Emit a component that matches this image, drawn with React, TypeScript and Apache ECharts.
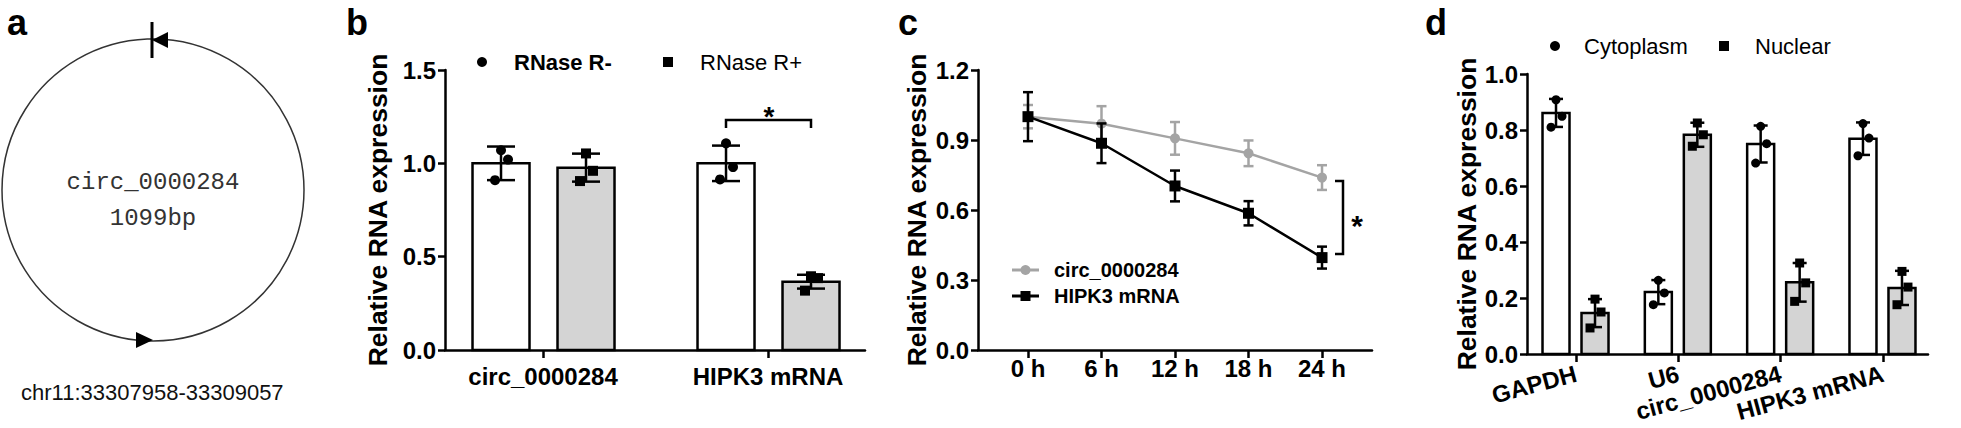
import React, { useEffect, useRef } from 'react';
import * as echarts from 'echarts';

// ---------- Panel b data ----------
const bCategories = ['circ_0000284', 'HIPK3 mRNA'];
const bMinusMean = [1.0, 1.0];
const bMinusSd = [0.09, 0.095];
const bMinusPoints = [[1.07, 1.02, 0.91], [1.107, 0.98, 0.914]];
const bPlusMean = [0.977, 0.366];
const bPlusSd = [0.075, 0.037];
const bPlusPoints = [[1.053, 0.96, 0.905], [0.395, 0.385, 0.318]];

// ---------- Panel c data ----------
const cHours = [0, 6, 12, 18, 24];
const cCircMean = [1.0, 0.97, 0.907, 0.843, 0.739];
const cCircSd = [0.05, 0.075, 0.07, 0.055, 0.053];
const cHipkMean = [1.0, 0.886, 0.703, 0.586, 0.396];
const cHipkSd = [0.105, 0.085, 0.066, 0.052, 0.047];

// ---------- Panel d data ----------
const dCategories = ['GAPDH', 'U6', 'circ_0000284', 'HIPK3 mRNA'];
const dCytoMean = [0.861, 0.221, 0.75, 0.769];
const dCytoSd = [0.05, 0.043, 0.066, 0.058];
const dCytoPoints = [[0.908, 0.849, 0.81], [0.263, 0.218, 0.176], [0.813, 0.751, 0.682], [0.823, 0.771, 0.708]];
const dNucMean = [0.146, 0.783, 0.256, 0.236];
const dNucSd = [0.05, 0.043, 0.069, 0.061];
const dNucPoints = [[0.196, 0.15, 0.093], [0.825, 0.783, 0.742], [0.325, 0.254, 0.188], [0.295, 0.239, 0.176]];

const FONT = '"Liberation Sans", Arial, Helvetica, sans-serif';
const MONO = '"Liberation Mono", "DejaVu Sans Mono", monospace';
const GRAY_FILL = '#d4d4d4';
const LINE_GRAY = '#a4a4a4';
const LW = 2.5;

function barSeries(
  name: string, axis: number, means: number[], sds: number[], points: number[][],
  offset: number, width: number, fill: string, symbol: 'circle' | 'rect',
  capHalf: number, jitter: number[], symSize: number
) {
  return {
    type: 'custom', name, xAxisIndex: axis, yAxisIndex: axis, silent: true,
    data: means.map((m, i) => [i, m, sds[i], ...points[i]]),
    encode: { x: 0, y: 1 },
    renderItem: (params: any, api: any) => {
      const i = api.value(0), m = api.value(1), s = api.value(2);
      const p0 = api.coord([i, 0]);
      const pt = api.coord([i, m]);
      const cx = p0[0] + offset;
      const hi = api.coord([i, m + s])[1];
      const lo = api.coord([i, m - s])[1];
      const st = { stroke: '#000', lineWidth: LW };
      const children: any[] = [
        { type: 'rect', shape: { x: cx - width / 2, y: pt[1], width, height: p0[1] - pt[1] }, style: { fill, stroke: '#000', lineWidth: LW } },
        { type: 'line', shape: { x1: cx, y1: hi, x2: cx, y2: lo }, style: st },
        { type: 'line', shape: { x1: cx - capHalf, y1: hi, x2: cx + capHalf, y2: hi }, style: st },
        { type: 'line', shape: { x1: cx - capHalf, y1: lo, x2: cx + capHalf, y2: lo }, style: st },
      ];
      for (let k = 0; k < 3; k++) {
        const y = api.coord([i, api.value(3 + k)])[1];
        const x = cx + jitter[k];
        if (symbol === 'circle') {
          children.push({ type: 'circle', shape: { cx: x, cy: y, r: symSize / 2 }, style: { fill: '#000' } });
        } else {
          children.push({ type: 'rect', shape: { x: x - symSize / 2, y: y - symSize / 2, width: symSize, height: symSize }, style: { fill: '#000' } });
        }
      }
      return { type: 'group', children };
    },
  };
}

function errSeries(name: string, axis: number, xs: number[], means: number[], sds: number[], color: string, z: number, capHalf: number) {
  return {
    type: 'custom', name, xAxisIndex: axis, yAxisIndex: axis, z, silent: true,
    data: xs.map((x, i) => [x, means[i], sds[i]]),
    encode: { x: 0, y: 1 },
    renderItem: (params: any, api: any) => {
      const x = api.value(0), m = api.value(1), s = api.value(2);
      const a = api.coord([x, m + s]);
      const b = api.coord([x, m - s]);
      const st = { stroke: color, lineWidth: LW };
      return {
        type: 'group', children: [
          { type: 'line', shape: { x1: a[0], y1: a[1], x2: b[0], y2: b[1] }, style: st },
          { type: 'line', shape: { x1: a[0] - capHalf, y1: a[1], x2: a[0] + capHalf, y2: a[1] }, style: st },
          { type: 'line', shape: { x1: b[0] - capHalf, y1: b[1], x2: b[0] + capHalf, y2: b[1] }, style: st },
        ],
      };
    },
  };
}

const axisLine = { show: true, onZero: false, lineStyle: { color: '#000', width: LW } };

function yAxis(grid: number, max: number, interval: number, nameGap: number) {
  return {
    gridIndex: grid, type: 'value', min: 0, max, interval,
    axisLine, splitLine: { show: false },
    axisTick: { show: true, length: 7, lineStyle: { color: '#000', width: LW } },
    axisLabel: { formatter: (v: number) => v.toFixed(1), color: '#000', fontFamily: FONT, fontWeight: 'bold', fontSize: 24, margin: 9 },
    name: 'Relative RNA expression', nameLocation: 'middle', nameGap,
    nameTextStyle: { color: '#000', fontFamily: FONT, fontWeight: 'bold', fontSize: 26.5 },
  };
}

function xAxis(grid: number, min: number, max: number, ticks: number[], fmt: (v: number) => string, margin: number, rotate = 0) {
  return {
    gridIndex: grid, type: 'value', min, max,
    axisLine, splitLine: { show: false },
    axisTick: { show: true, length: 8, customValues: ticks, lineStyle: { color: '#000', width: LW } },
    axisLabel: { customValues: ticks, formatter: fmt, color: '#000', fontFamily: FONT, fontWeight: 'bold', fontSize: 24, margin, rotate },
  };
}

const txt = (x: number, y: number, text: string, size: number, weight = 'bold', align = 'left', va = 'middle', family = FONT, fill = '#000') => ({
  type: 'text', x, y,
  style: {
    text, fontSize: size, fontWeight: weight, fontFamily: family, fill,
    align, verticalAlign: va, textAlign: align, textVerticalAlign: va,
  },
});

const graphic: any[] = [
  // panel letters
  txt(7, 22, 'a', 36, 'bold'),
  txt(346, 22, 'b', 36, 'bold'),
  txt(898, 22, 'c', 36, 'bold'),
  txt(1425, 22, 'd', 36, 'bold'),
  // panel a
  { type: 'circle', shape: { cx: 153, cy: 190, r: 151 }, style: { fill: 'none', stroke: '#333', lineWidth: 1.5 } },
  { type: 'line', shape: { x1: 152, y1: 22, x2: 152, y2: 58 }, style: { stroke: '#000', lineWidth: 3 } },
  { type: 'polygon', shape: { points: [[152, 40], [168, 32], [168, 48]] }, style: { fill: '#000' } },
  { type: 'polygon', shape: { points: [[136, 332], [153, 340], [136, 348]] }, style: { fill: '#000' } },
  txt(153, 182, 'circ_0000284', 24, 'normal', 'center', 'middle', MONO, '#333'),
  txt(153, 218, '1099bp', 24, 'normal', 'center', 'middle', MONO, '#333'),
  txt(21, 392, 'chr11:33307958-33309057', 22, 'normal', 'left', 'middle', FONT, '#111'),
  // panel b legend
  { type: 'circle', shape: { cx: 482, cy: 62, r: 5 }, style: { fill: '#000' } },
  txt(514, 62, 'RNase R-', 22, 'bold'),
  { type: 'rect', shape: { x: 663, y: 57, width: 10, height: 10 }, style: { fill: '#000' } },
  txt(700, 62, 'RNase R+', 22, 'normal'),
  // panel b significance
  { type: 'polyline', shape: { points: [[726, 128], [726, 120], [811, 120], [811, 128]] }, style: { stroke: '#000', lineWidth: LW, fill: 'none' } },
  txt(769, 116, '*', 28, 'bold', 'center', 'middle'),
  // panel c legend
  { type: 'line', shape: { x1: 1012, y1: 270, x2: 1039, y2: 270 }, style: { stroke: LINE_GRAY, lineWidth: 3 } },
  { type: 'circle', shape: { cx: 1025.5, cy: 270, r: 5 }, style: { fill: LINE_GRAY } },
  txt(1054, 270, 'circ_0000284', 20, 'bold'),
  { type: 'line', shape: { x1: 1012, y1: 296, x2: 1039, y2: 296 }, style: { stroke: '#000', lineWidth: 3 } },
  { type: 'rect', shape: { x: 1020.5, y: 291, width: 10, height: 10 }, style: { fill: '#000' } },
  txt(1054, 296, 'HIPK3 mRNA', 20, 'bold'),
  // panel c significance
  { type: 'polyline', shape: { points: [[1335, 181], [1343, 181], [1343, 254], [1335, 254]] }, style: { stroke: '#000', lineWidth: LW, fill: 'none' } },
  txt(1357, 225, '*', 30, 'bold', 'center', 'middle'),
  // panel d legend
  { type: 'circle', shape: { cx: 1555, cy: 46, r: 5 }, style: { fill: '#000' } },
  txt(1584, 46, 'Cytoplasm', 22, 'normal'),
  { type: 'rect', shape: { x: 1719, y: 41, width: 10, height: 10 }, style: { fill: '#000' } },
  txt(1755, 46, 'Nuclear', 22, 'normal'),
];

const option: any = {
  animation: false,
  backgroundColor: '#fff',
  grid: [
    { left: 445, top: 70, width: 420, height: 280, outerBoundsMode: 'none' },
    { left: 978, top: 70, width: 394, height: 280, outerBoundsMode: 'none' },
    { left: 1527, top: 74, width: 401, height: 280, outerBoundsMode: 'none' },
  ],
  xAxis: [
    xAxis(0, -0.4356, 1.431, [0, 1], (v) => bCategories[Math.round(v)] ?? '', 14),
    xAxis(1, -4.08, 28.08, cHours, (v) => `${Math.round(v)} h`, 6),
    xAxis(2, -0.479, 3.44, [0, 1, 2, 3], (v) => dCategories[Math.round(v)] ?? '', 19, 15),
  ],
  yAxis: [yAxis(0, 1.5, 0.5, 54), yAxis(1, 1.2, 0.3, 48), yAxis(2, 1.0, 0.2, 45)],
  graphic,
  series: [
    barSeries('RNase R-', 0, bMinusMean, bMinusSd, bMinusPoints, -42, 57, '#fff', 'circle', 14, [0, 7, -6], 10),
    barSeries('RNase R+', 0, bPlusMean, bPlusSd, bPlusPoints, 43, 57, GRAY_FILL, 'rect', 14, [0, 7, -6], 10),
    errSeries('circ err', 1, cHours, cCircMean, cCircSd, LINE_GRAY, 2, 5),
    {
      type: 'line', name: 'circ_0000284', xAxisIndex: 1, yAxisIndex: 1, z: 3, silent: true,
      data: cHours.map((h, i) => [h, cCircMean[i]]),
      symbol: 'circle', symbolSize: 10, showSymbol: true,
      lineStyle: { color: LINE_GRAY, width: LW }, itemStyle: { color: LINE_GRAY },
    },
    errSeries('hipk err', 1, cHours, cHipkMean, cHipkSd, '#000', 4, 5),
    {
      type: 'line', name: 'HIPK3 mRNA', xAxisIndex: 1, yAxisIndex: 1, z: 5, silent: true,
      data: cHours.map((h, i) => [h, cHipkMean[i]]),
      symbol: 'rect', symbolSize: 11, showSymbol: true,
      lineStyle: { color: '#000', width: LW }, itemStyle: { color: '#000' },
    },
    barSeries('Cytoplasm', 2, dCytoMean, dCytoSd, dCytoPoints, -20, 27, '#fff', 'circle', 7, [0, 6, -5], 9),
    barSeries('Nuclear', 2, dNucMean, dNucSd, dNucPoints, 19, 27, GRAY_FILL, 'rect', 7, [0, 6, -5], 9),
  ],
};

export default function App() {
  const ref = useRef<HTMLDivElement>(null);
  useEffect(() => {
    const chart = echarts.init(ref.current!, null, { renderer: 'svg' });
    chart.setOption(option);
    return () => chart.dispose();
  }, []);
  return (
    <div
      ref={ref}
      style={{ position: 'absolute', left: 0, top: 0, width: 1961, height: 428, background: '#fff' }}
    />
  );
}
